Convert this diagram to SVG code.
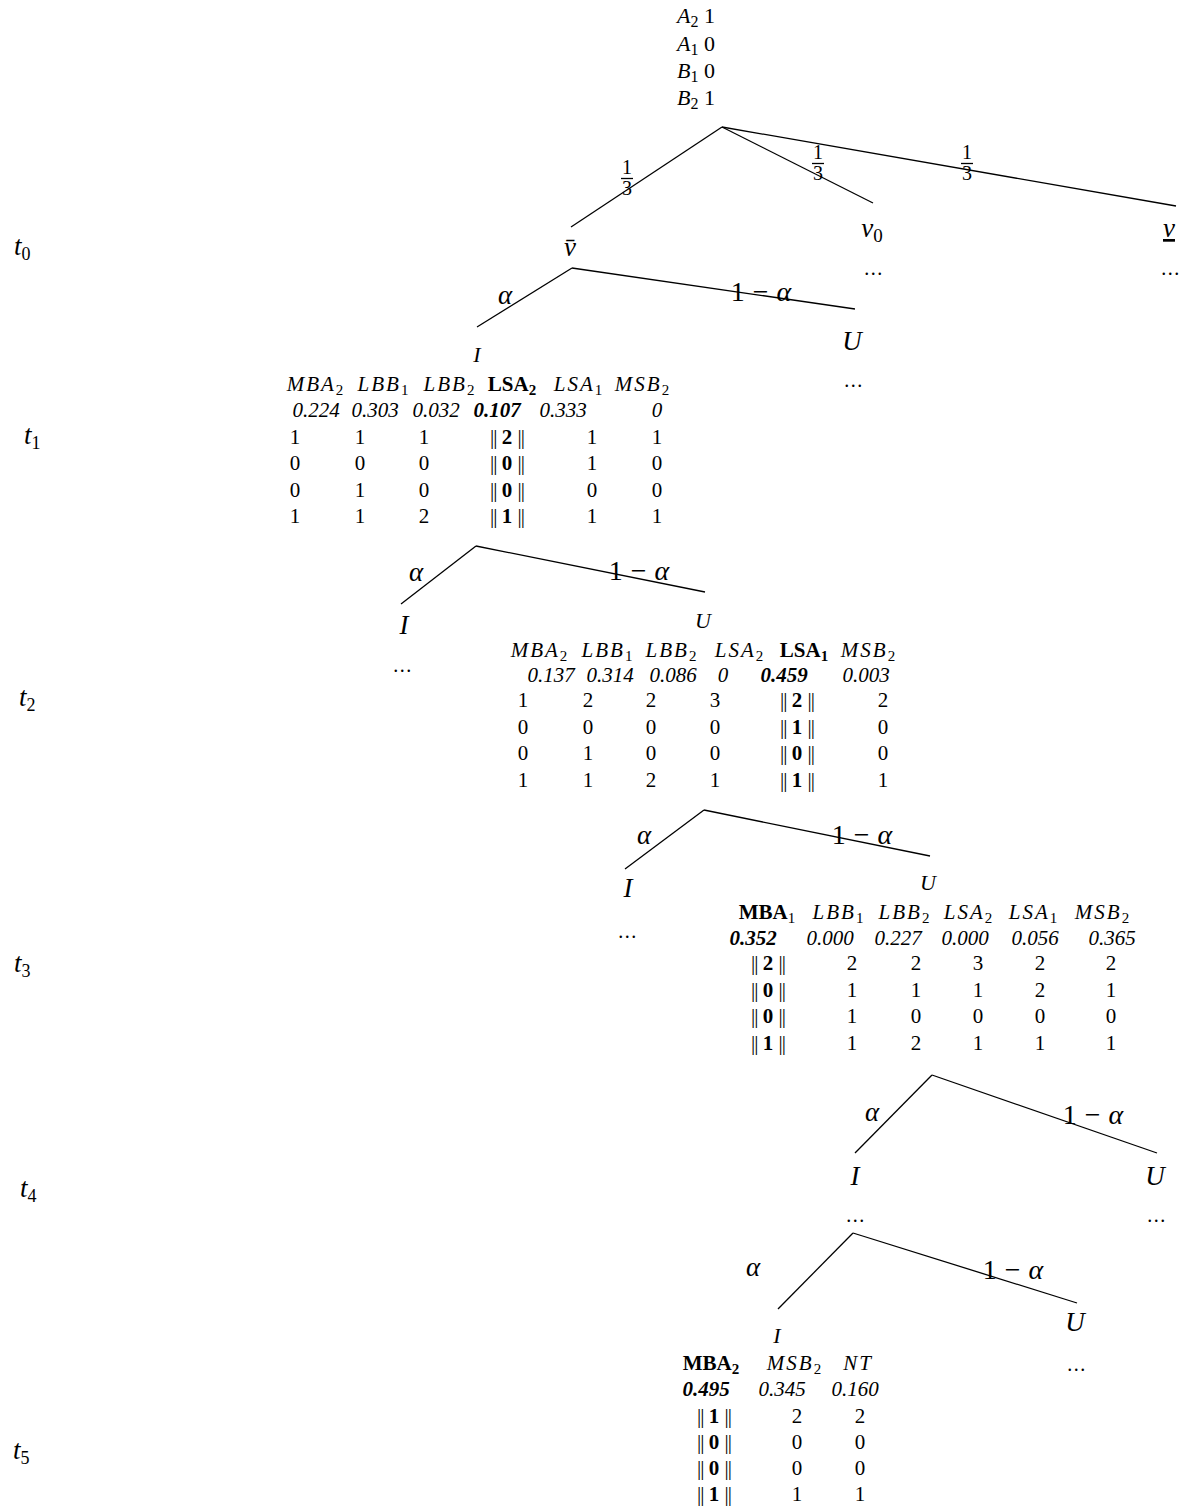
<svg xmlns="http://www.w3.org/2000/svg" width="1189" height="1508" viewBox="0 0 1189 1508">
<style>
text{font-family:"Liberation Serif","DejaVu Serif",serif;fill:#000}
.i{font-style:italic}
.b{font-weight:bold}
.n{font-size:21px}
.r{font-size:22px}
.L{font-size:27px}
.M{font-size:28px}
.S{font-size:22px}
.f{font-size:20px}
.c{text-anchor:middle}
.h{letter-spacing:2px}
.d{font-size:20px;letter-spacing:1.5px;text-anchor:middle}
.bar{letter-spacing:-1px}
.e line,line.fb{stroke:#000;stroke-width:1.3}
</style>
<rect width="1189" height="1508" fill="#fff"/>

<g id="time-labels">
<text class="L i" x="14" y="255">t<tspan font-size="18" font-style="normal" dy="5">0</tspan></text>
<text class="L i" x="24" y="444">t<tspan font-size="18" font-style="normal" dy="5">1</tspan></text>
<text class="L i" x="19" y="706">t<tspan font-size="18" font-style="normal" dy="5">2</tspan></text>
<text class="L i" x="14" y="972">t<tspan font-size="18" font-style="normal" dy="5">3</tspan></text>
<text class="L i" x="20" y="1197">t<tspan font-size="18" font-style="normal" dy="5">4</tspan></text>
<text class="L i" x="13" y="1459">t<tspan font-size="18" font-style="normal" dy="5">5</tspan></text>
</g>

<g id="connectors" class="e">
<line x1="722" y1="127" x2="571" y2="227"/>
<line x1="722" y1="127" x2="873" y2="203"/>
<line x1="722" y1="127" x2="1176" y2="206"/>
<line x1="572" y1="268" x2="477" y2="327"/>
<line x1="572" y1="268" x2="855" y2="309"/>
<line x1="476" y1="546" x2="401" y2="604"/>
<line x1="476" y1="546" x2="705" y2="592"/>
<line x1="704" y1="810" x2="625" y2="869"/>
<line x1="704" y1="810" x2="930" y2="856"/>
<line x1="932" y1="1075" x2="855" y2="1153"/>
<line x1="932" y1="1075" x2="1157" y2="1153"/>
<line x1="853" y1="1233" x2="778" y2="1309"/>
<line x1="853" y1="1233" x2="1077" y2="1303"/>
</g>

<g id="edge-labels">
<text class="f c" x="627" y="174">1</text><line class="fb" x1="621" y1="178.5" x2="633" y2="178.5"/><text class="f c" x="627" y="195">3</text>
<text class="f c" x="818" y="159">1</text><line class="fb" x1="812" y1="163.5" x2="824" y2="163.5"/><text class="f c" x="818" y="180">3</text>
<text class="f c" x="967" y="159">1</text><line class="fb" x1="961" y1="163.5" x2="973" y2="163.5"/><text class="f c" x="967" y="180">3</text>
<text class="L i c" x="505" y="304">α</text>
<text class="M c" x="761" y="301">1<tspan dx="8">−</tspan><tspan dx="8" class="i">α</tspan></text>
<text class="L i c" x="416" y="581">α</text>
<text class="M c" x="639" y="580">1<tspan dx="8">−</tspan><tspan dx="8" class="i">α</tspan></text>
<text class="L i c" x="644" y="844">α</text>
<text class="M c" x="862" y="844">1<tspan dx="8">−</tspan><tspan dx="8" class="i">α</tspan></text>
<text class="L i c" x="872" y="1121">α</text>
<text class="M c" x="1093" y="1124">1<tspan dx="8">−</tspan><tspan dx="8" class="i">α</tspan></text>
<text class="L i c" x="753" y="1276">α</text>
<text class="M c" x="1013" y="1279">1<tspan dx="8">−</tspan><tspan dx="8" class="i">α</tspan></text>
</g>

<g id="root">
<text class="r" x="677" y="23"><tspan class="i">A</tspan><tspan font-size="16" dy="4">2</tspan><tspan dy="-4"> 1</tspan></text>
<text class="r" x="677" y="51"><tspan class="i">A</tspan><tspan font-size="16" dy="4">1</tspan><tspan dy="-4"> 0</tspan></text>
<text class="r" x="677" y="78"><tspan class="i">B</tspan><tspan font-size="16" dy="4">1</tspan><tspan dy="-4"> 0</tspan></text>
<text class="r" x="677" y="105"><tspan class="i">B</tspan><tspan font-size="16" dy="4">2</tspan><tspan dy="-4"> 1</tspan></text>
</g>

<g id="node-vbar"><text class="L i c" x="570" y="256">v&#x304;</text></g>
<g id="node-v0"><text class="L i c" x="872" y="237">v<tspan font-size="19" font-style="normal" dy="5">0</tspan></text><text class="d" x="874" y="275">...</text></g>
<g id="node-vunder"><text class="L i c" x="1169" y="237" text-decoration="underline">v</text><text class="d" x="1171" y="275">...</text></g>

<g id="node-t1-U"><text class="L i c" x="852" y="350">U</text><text class="d" x="854" y="387">...</text></g>

<g id="node-t1-I">
<text class="S i c" x="477" y="362">I</text>
<text class="n i c h" x="316" y="391">MBA<tspan font-size="15" font-style="normal" dy="4">2</tspan></text>
<text class="n i c h" x="384" y="391">LBB<tspan font-size="15" font-style="normal" dy="4">1</tspan></text>
<text class="n i c h" x="450" y="391">LBB<tspan font-size="15" font-style="normal" dy="4">2</tspan></text>
<text class="n b c" x="512" y="391">LSA<tspan font-size="15" dy="4">2</tspan></text>
<text class="n i c h" x="579" y="391">LSA<tspan font-size="15" font-style="normal" dy="4">1</tspan></text>
<text class="n i c h" x="643" y="391">MSB<tspan font-size="15" font-style="normal" dy="4">2</tspan></text>
<text class="n i c" x="316" y="417">0.224</text>
<text class="n i c" x="375" y="417">0.303</text>
<text class="n i c" x="436" y="417">0.032</text>
<text class="n i b c" x="497" y="417">0.107</text>
<text class="n i c" x="563" y="417">0.333</text>
<text class="n i c" x="657" y="417">0</text>
<text class="n c" x="295" y="444">1</text><text class="n c" x="360" y="444">1</text><text class="n c" x="424" y="444">1</text><text class="n c" x="507" y="444"><tspan class="bar">||</tspan> <tspan class="b">2</tspan> <tspan class="bar">||</tspan></text><text class="n c" x="592" y="444">1</text><text class="n c" x="657" y="444">1</text>
<text class="n c" x="295" y="470">0</text><text class="n c" x="360" y="470">0</text><text class="n c" x="424" y="470">0</text><text class="n c" x="507" y="470"><tspan class="bar">||</tspan> <tspan class="b">0</tspan> <tspan class="bar">||</tspan></text><text class="n c" x="592" y="470">1</text><text class="n c" x="657" y="470">0</text>
<text class="n c" x="295" y="497">0</text><text class="n c" x="360" y="497">1</text><text class="n c" x="424" y="497">0</text><text class="n c" x="507" y="497"><tspan class="bar">||</tspan> <tspan class="b">0</tspan> <tspan class="bar">||</tspan></text><text class="n c" x="592" y="497">0</text><text class="n c" x="657" y="497">0</text>
<text class="n c" x="295" y="523">1</text><text class="n c" x="360" y="523">1</text><text class="n c" x="424" y="523">2</text><text class="n c" x="507" y="523"><tspan class="bar">||</tspan> <tspan class="b">1</tspan> <tspan class="bar">||</tspan></text><text class="n c" x="592" y="523">1</text><text class="n c" x="657" y="523">1</text>
</g>

<g id="node-t2-I"><text class="L i c" x="404" y="634">I</text><text class="d" x="403" y="672">...</text></g>

<g id="node-t2-U">
<text class="S i c" x="703" y="628">U</text>
<text class="n i c h" x="540" y="657">MBA<tspan font-size="15" font-style="normal" dy="4">2</tspan></text>
<text class="n i c h" x="608" y="657">LBB<tspan font-size="15" font-style="normal" dy="4">1</tspan></text>
<text class="n i c h" x="672" y="657">LBB<tspan font-size="15" font-style="normal" dy="4">2</tspan></text>
<text class="n i c h" x="740" y="657">LSA<tspan font-size="15" font-style="normal" dy="4">2</tspan></text>
<text class="n b c" x="804" y="657">LSA<tspan font-size="15" dy="4">1</tspan></text>
<text class="n i c h" x="869" y="657">MSB<tspan font-size="15" font-style="normal" dy="4">2</tspan></text>
<text class="n i c" x="551" y="682">0.137</text>
<text class="n i c" x="610" y="682">0.314</text>
<text class="n i c" x="673" y="682">0.086</text>
<text class="n i c" x="723" y="682">0</text>
<text class="n i b c" x="784" y="682">0.459</text>
<text class="n i c" x="866" y="682">0.003</text>
<text class="n c" x="523" y="707">1</text><text class="n c" x="588" y="707">2</text><text class="n c" x="651" y="707">2</text><text class="n c" x="715" y="707">3</text><text class="n c" x="797" y="707"><tspan class="bar">||</tspan> <tspan class="b">2</tspan> <tspan class="bar">||</tspan></text><text class="n c" x="883" y="707">2</text>
<text class="n c" x="523" y="734">0</text><text class="n c" x="588" y="734">0</text><text class="n c" x="651" y="734">0</text><text class="n c" x="715" y="734">0</text><text class="n c" x="797" y="734"><tspan class="bar">||</tspan> <tspan class="b">1</tspan> <tspan class="bar">||</tspan></text><text class="n c" x="883" y="734">0</text>
<text class="n c" x="523" y="760">0</text><text class="n c" x="588" y="760">1</text><text class="n c" x="651" y="760">0</text><text class="n c" x="715" y="760">0</text><text class="n c" x="797" y="760"><tspan class="bar">||</tspan> <tspan class="b">0</tspan> <tspan class="bar">||</tspan></text><text class="n c" x="883" y="760">0</text>
<text class="n c" x="523" y="787">1</text><text class="n c" x="588" y="787">1</text><text class="n c" x="651" y="787">2</text><text class="n c" x="715" y="787">1</text><text class="n c" x="797" y="787"><tspan class="bar">||</tspan> <tspan class="b">1</tspan> <tspan class="bar">||</tspan></text><text class="n c" x="883" y="787">1</text>
</g>

<g id="node-t3-I"><text class="L i c" x="628" y="897">I</text><text class="d" x="628" y="938">...</text></g>

<g id="node-t3-U">
<text class="S i c" x="928" y="890">U</text>
<text class="n b c" x="767" y="919">MBA<tspan font-size="15" font-weight="normal" dy="4">1</tspan></text>
<text class="n i c h" x="839" y="919">LBB<tspan font-size="15" font-style="normal" dy="4">1</tspan></text>
<text class="n i c h" x="905" y="919">LBB<tspan font-size="15" font-style="normal" dy="4">2</tspan></text>
<text class="n i c h" x="969" y="919">LSA<tspan font-size="15" font-style="normal" dy="4">2</tspan></text>
<text class="n i c h" x="1034" y="919">LSA<tspan font-size="15" font-style="normal" dy="4">1</tspan></text>
<text class="n i c h" x="1103" y="919">MSB<tspan font-size="15" font-style="normal" dy="4">2</tspan></text>
<text class="n i b c" x="753" y="945">0.352</text>
<text class="n i c" x="830" y="945">0.000</text>
<text class="n i c" x="898" y="945">0.227</text>
<text class="n i c" x="965" y="945">0.000</text>
<text class="n i c" x="1035" y="945">0.056</text>
<text class="n i c" x="1112" y="945">0.365</text>
<text class="n c" x="768" y="970"><tspan class="bar">||</tspan> <tspan class="b">2</tspan> <tspan class="bar">||</tspan></text><text class="n c" x="852" y="970">2</text><text class="n c" x="916" y="970">2</text><text class="n c" x="978" y="970">3</text><text class="n c" x="1040" y="970">2</text><text class="n c" x="1111" y="970">2</text>
<text class="n c" x="768" y="997"><tspan class="bar">||</tspan> <tspan class="b">0</tspan> <tspan class="bar">||</tspan></text><text class="n c" x="852" y="997">1</text><text class="n c" x="916" y="997">1</text><text class="n c" x="978" y="997">1</text><text class="n c" x="1040" y="997">2</text><text class="n c" x="1111" y="997">1</text>
<text class="n c" x="768" y="1023"><tspan class="bar">||</tspan> <tspan class="b">0</tspan> <tspan class="bar">||</tspan></text><text class="n c" x="852" y="1023">1</text><text class="n c" x="916" y="1023">0</text><text class="n c" x="978" y="1023">0</text><text class="n c" x="1040" y="1023">0</text><text class="n c" x="1111" y="1023">0</text>
<text class="n c" x="768" y="1050"><tspan class="bar">||</tspan> <tspan class="b">1</tspan> <tspan class="bar">||</tspan></text><text class="n c" x="852" y="1050">1</text><text class="n c" x="916" y="1050">2</text><text class="n c" x="978" y="1050">1</text><text class="n c" x="1040" y="1050">1</text><text class="n c" x="1111" y="1050">1</text>
</g>

<g id="node-t4-I"><text class="L i c" x="855" y="1185">I</text><text class="d" x="856" y="1222">...</text></g>
<g id="node-t4-U"><text class="L i c" x="1155" y="1185">U</text><text class="d" x="1157" y="1222">...</text></g>

<g id="node-t5-U"><text class="L i c" x="1075" y="1331">U</text><text class="d" x="1077" y="1371">...</text></g>

<g id="node-t5-I">
<text class="S i c" x="777" y="1343">I</text>
<text class="n b c" x="711" y="1370">MBA<tspan font-size="15" dy="4">2</tspan></text>
<text class="n i c h" x="795" y="1370">MSB<tspan font-size="15" font-style="normal" dy="4">2</tspan></text>
<text class="n i c h" x="858" y="1370">NT</text>
<text class="n i b c" x="706" y="1396">0.495</text>
<text class="n i c" x="782" y="1396">0.345</text>
<text class="n i c" x="855" y="1396">0.160</text>
<text class="n c" x="714" y="1423"><tspan class="bar">||</tspan> <tspan class="b">1</tspan> <tspan class="bar">||</tspan></text><text class="n c" x="797" y="1423">2</text><text class="n c" x="860" y="1423">2</text>
<text class="n c" x="714" y="1449"><tspan class="bar">||</tspan> <tspan class="b">0</tspan> <tspan class="bar">||</tspan></text><text class="n c" x="797" y="1449">0</text><text class="n c" x="860" y="1449">0</text>
<text class="n c" x="714" y="1475"><tspan class="bar">||</tspan> <tspan class="b">0</tspan> <tspan class="bar">||</tspan></text><text class="n c" x="797" y="1475">0</text><text class="n c" x="860" y="1475">0</text>
<text class="n c" x="714" y="1501"><tspan class="bar">||</tspan> <tspan class="b">1</tspan> <tspan class="bar">||</tspan></text><text class="n c" x="797" y="1501">1</text><text class="n c" x="860" y="1501">1</text>
</g>
</svg>
